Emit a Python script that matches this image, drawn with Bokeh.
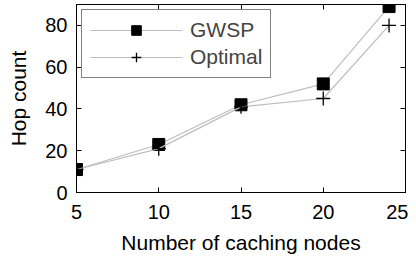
from bokeh.plotting import figure
from bokeh.models import Range1d, LinearAxis, FixedTicker, Legend, LegendItem
from bokeh.embed import file_html
from bokeh.resources import INLINE

nodes = [5, 10, 15, 20, 24]
gwsp = [11, 23, 42, 52, 89]
optimal = [11, 21, 41, 45, 80]
x_ticks = [5, 10, 15, 20, 25]
y_ticks = [0, 20, 40, 60, 80]

FONT = "Liberation Sans"

p = figure(width=408, height=260, output_backend="svg", toolbar_location=None,
           x_range=Range1d(5, 25), y_range=Range1d(0, 90),
           min_border_left=76, min_border_right=3, min_border_top=4, min_border_bottom=68)
p.background_fill_color = "white"
p.border_fill_color = "white"
p.outline_line_color = "black"
p.outline_line_width = 1
p.xgrid.visible = False
p.ygrid.visible = False

l1 = p.line(nodes, gwsp, line_color="#bdbdbd", line_width=1.2)
m1 = p.scatter(nodes, gwsp, marker="square", size=12, fill_color="black", line_color="black")
l2 = p.line(nodes, optimal, line_color="#bdbdbd", line_width=1.2)
m2 = p.scatter(nodes, optimal, marker="cross", size=14, fill_color=None, line_color="black", line_width=1.3)

for ax in (p.xaxis[0], p.yaxis[0]):
    ax.major_tick_in = 5
    ax.major_tick_out = 0
    ax.minor_tick_line_color = None
    ax.axis_line_color = "black"
    ax.major_label_text_font = FONT
    ax.major_label_text_font_size = "20px"
    ax.major_label_text_color = "black"
    ax.axis_label_text_font = FONT
    ax.axis_label_text_font_size = "21px"
    ax.axis_label_text_font_style = "normal"
    ax.axis_label_text_color = "black"

p.xaxis[0].ticker = FixedTicker(ticks=x_ticks)
p.yaxis[0].ticker = FixedTicker(ticks=y_ticks)
p.xaxis[0].axis_label = "Number of caching nodes"
p.yaxis[0].axis_label = "Hop count"
p.xaxis[0].major_label_standoff = 12
p.yaxis[0].major_label_standoff = 9
p.xaxis[0].axis_label_standoff = 9
p.yaxis[0].axis_label_standoff = 12

top = LinearAxis(ticker=FixedTicker(ticks=x_ticks), major_label_text_color=None,
                 major_tick_in=5, major_tick_out=0, minor_tick_line_color=None,
                 major_label_standoff=0, axis_line_color="black")
right = LinearAxis(ticker=FixedTicker(ticks=y_ticks), major_label_text_color=None,
                   major_tick_in=5, major_tick_out=0, minor_tick_line_color=None,
                   major_label_standoff=0, axis_line_color="black")
p.add_layout(top, "above")
p.add_layout(right, "right")

legend = Legend(items=[LegendItem(label="GWSP", renderers=[l1, m1]),
                       LegendItem(label="Optimal", renderers=[l2, m2])],
                location="top_left")
legend.glyph_width = 92
legend.glyph_height = 24
legend.spacing = 3
legend.padding = 8
legend.margin = 5
legend.label_text_font = FONT
legend.label_text_font_size = "21px"
legend.label_standoff = 8
legend.border_line_color = "black"
legend.border_line_width = 1
legend.background_fill_alpha = 1
p.add_layout(legend)

open("out.html", "w").write(file_html(p, INLINE))
